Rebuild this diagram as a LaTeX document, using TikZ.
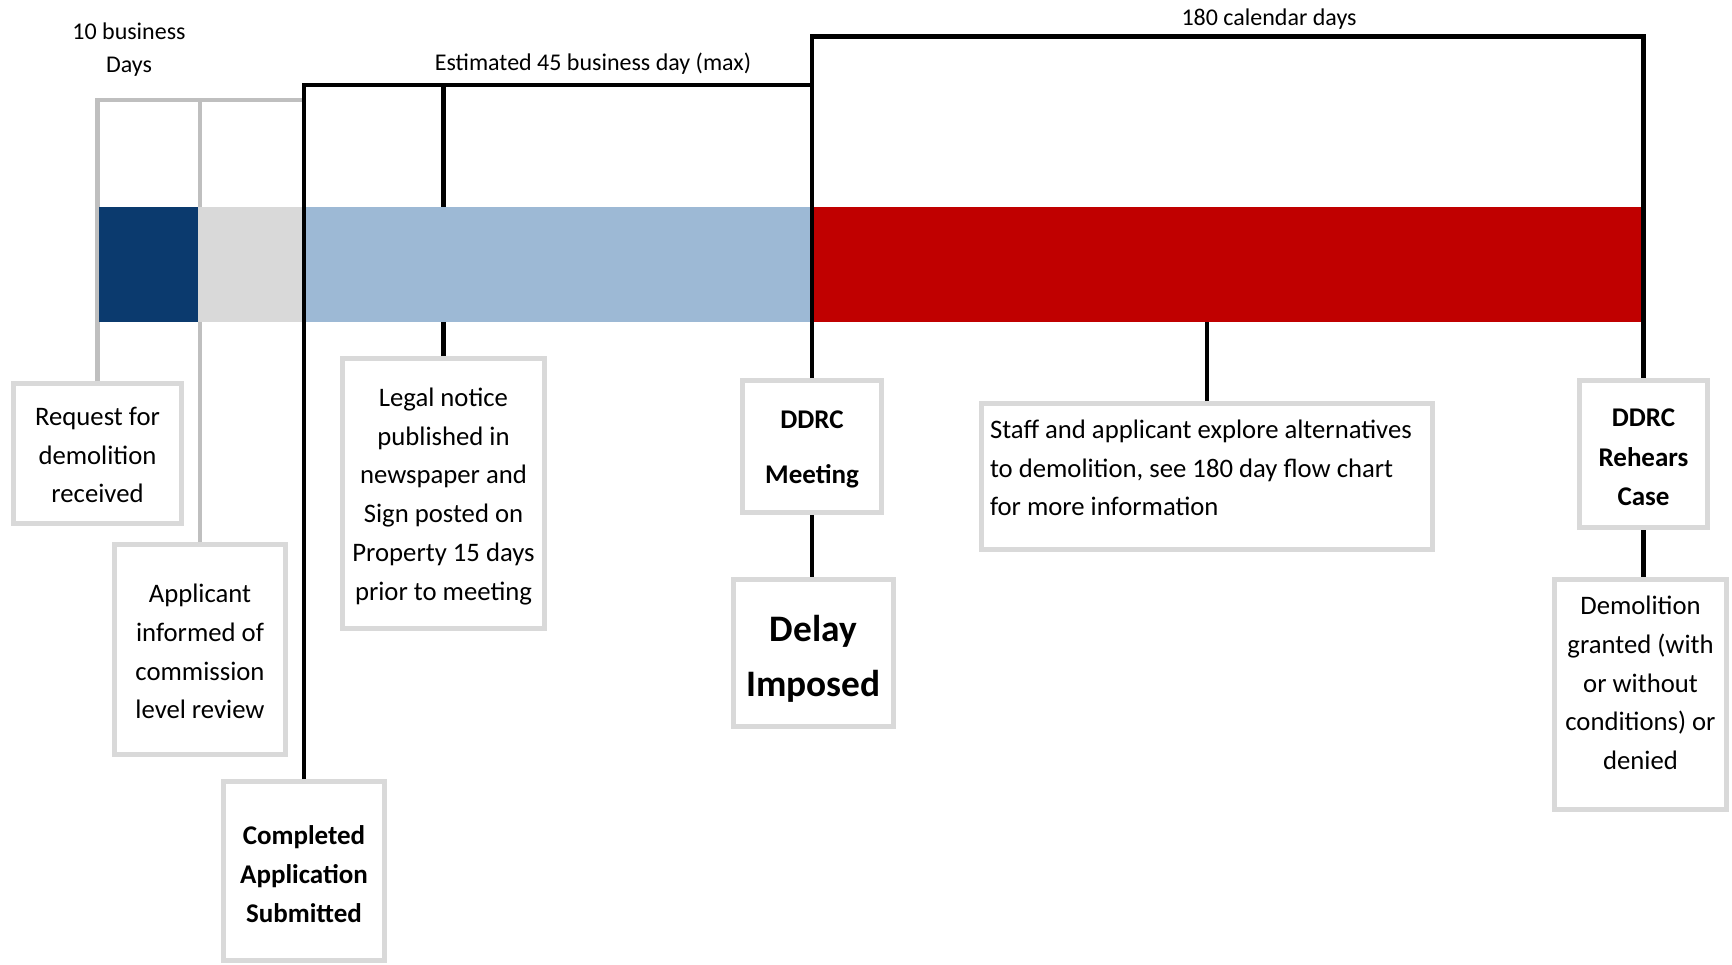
\documentclass[tikz,border=0pt]{standalone}
\usepackage{fontspec}
\setmainfont{Carlito}
\definecolor{navy}{RGB}{11,58,110}
\definecolor{lgray}{RGB}{217,217,217}
\definecolor{lblue}{RGB}{157,185,213}
\definecolor{dred}{RGB}{192,0,0}
\definecolor{boxgray}{RGB}{217,217,217}
\definecolor{brgray}{RGB}{191,191,191}
\begin{document}
\begin{tikzpicture}[x=1pt,y=-1pt,
  box/.style={draw=boxgray, line width=5pt, fill=white, inner sep=0pt},
  txt/.style={inner sep=0pt, align=center, font=\fontsize{26.7}{38.7}\selectfont},
  bar/.style={inner sep=0pt, draw=none, minimum height=115pt},
  blk/.style={line width=4.6pt, black},
  gry/.style={line width=4.5pt, brgray},
  lbl/.style={font=\fontsize{24}{33}\selectfont, align=center, inner sep=0pt}]
\useasboundingbox (0,0) rectangle (1732,964);

% boxes
\node[box, minimum width=168pt, minimum height=140pt] (req) at (97.5,453.5) {};
\node[txt] (reqt) at ([yshift=-1.7pt]req.center) {Request for\\demolition\\received};

\node[box, minimum width=171pt, minimum height=210pt] (app) at (200,649.5) {};
\node[txt] (appt) at ([yshift=-2.2pt]app.center) {Applicant\\informed of\\commission\\level review};

\node[box, minimum width=161pt, minimum height=179pt] (comp) at (304,871) {};
\node[txt, font=\fontsize{27}{38.7}\selectfont\bfseries] (compt) at ([yshift=-3.3pt]comp.center)
  {Completed\\Application\\Submitted};

\node[box, minimum width=202pt, minimum height=270pt] (legal) at (443.5,493.5) {};
\node[txt, font=\fontsize{26.7}{38.8}\selectfont] (legalt) at ([yshift=-2.8pt]legal.center)
  {Legal notice\\published in\\newspaper and\\Sign posted on\\Property 15 days\\prior to meeting};

\node[box, minimum width=139pt, minimum height=132pt] (meet) at (812,446.5) {};
\node[txt, font=\fontsize{27}{55}\selectfont\bfseries] (meett) at ([yshift=-3.3pt]meet.center)
  {DDRC\\Meeting};

\node[box, minimum width=160pt, minimum height=147pt] (delay) at (813.5,653) {};
\node[txt, font=\fontsize{37.4}{55}\selectfont\bfseries] (delayt) at ([yshift=-5.5pt]delay.center)
  {Delay\\Imposed};

\node[box, minimum width=451pt, minimum height=146pt] (staff) at (1207,476.5) {};
\node[txt, align=flush left, text width=434pt] (stafft) at ([yshift=8.5pt]staff.center)
  {Staff and applicant explore alternatives\\to demolition, see 180 day flow chart\\for more information};

\node[box, minimum width=128pt, minimum height=147pt] (rehear) at (1643.5,454) {};
\node[txt, font=\fontsize{27}{39.5}\selectfont\bfseries] (reheart) at ([yshift=-3.3pt]rehear.center)
  {DDRC\\Rehears\\Case};

\node[box, minimum width=172pt, minimum height=230pt] (demol) at (1640.5,694.5) {};
\node[txt] (demolt) at ([yshift=11.5pt]demol.center)
  {Demolition\\granted (with\\or without\\conditions) or\\denied};

% bracket corner coordinates
\coordinate (g) at (302,100);
\coordinate (b45) at (812,85);
\coordinate (c180) at (812,36.5);

% gray bracket (behind bars)
\draw[gry] (req.north) -- (req.north |- g) -- (g);
\draw[gry] (app.north) -- (app.north |- g);

% bars
\node[bar, fill=navy,  minimum width=99pt]  (bar1) at (148.5,264.5) {};
\node[bar, fill=lgray, minimum width=104pt] (bar2) at (250,264.5) {};
\node[bar, fill=lblue, minimum width=509pt] (bar3) at (556.5,264.5) {};
\node[bar, fill=dred,  minimum width=832pt] (bar4) at (1227,264.5) {};

% black connectors
\draw[blk] (comp.north) |- (b45);
\draw[blk] (legal.north) -- (legal.north |- bar3.south);
\draw[blk] (legal.north |- bar3.north) -- (legal.north |- b45);
\draw[blk] (meet.north) -- (c180) -- (rehear.north |- c180) -- (rehear.north);
\draw[blk] (staff.north) -- (staff.north |- bar4.south);
\draw[blk] (meet.south) -- (meet.south |- delay.north);
\draw[blk] (rehear.south) -- (rehear.south |- demol.north);

% labels
\node[lbl] (l10) at (129,49.7) {10 business\\Days};
\node[lbl] (l45) at (593,63.2) {Estimated 45 business day (max)};
\node[lbl] (l180) at (1269,19.2) {180 calendar days};
\end{tikzpicture}
\end{document}
